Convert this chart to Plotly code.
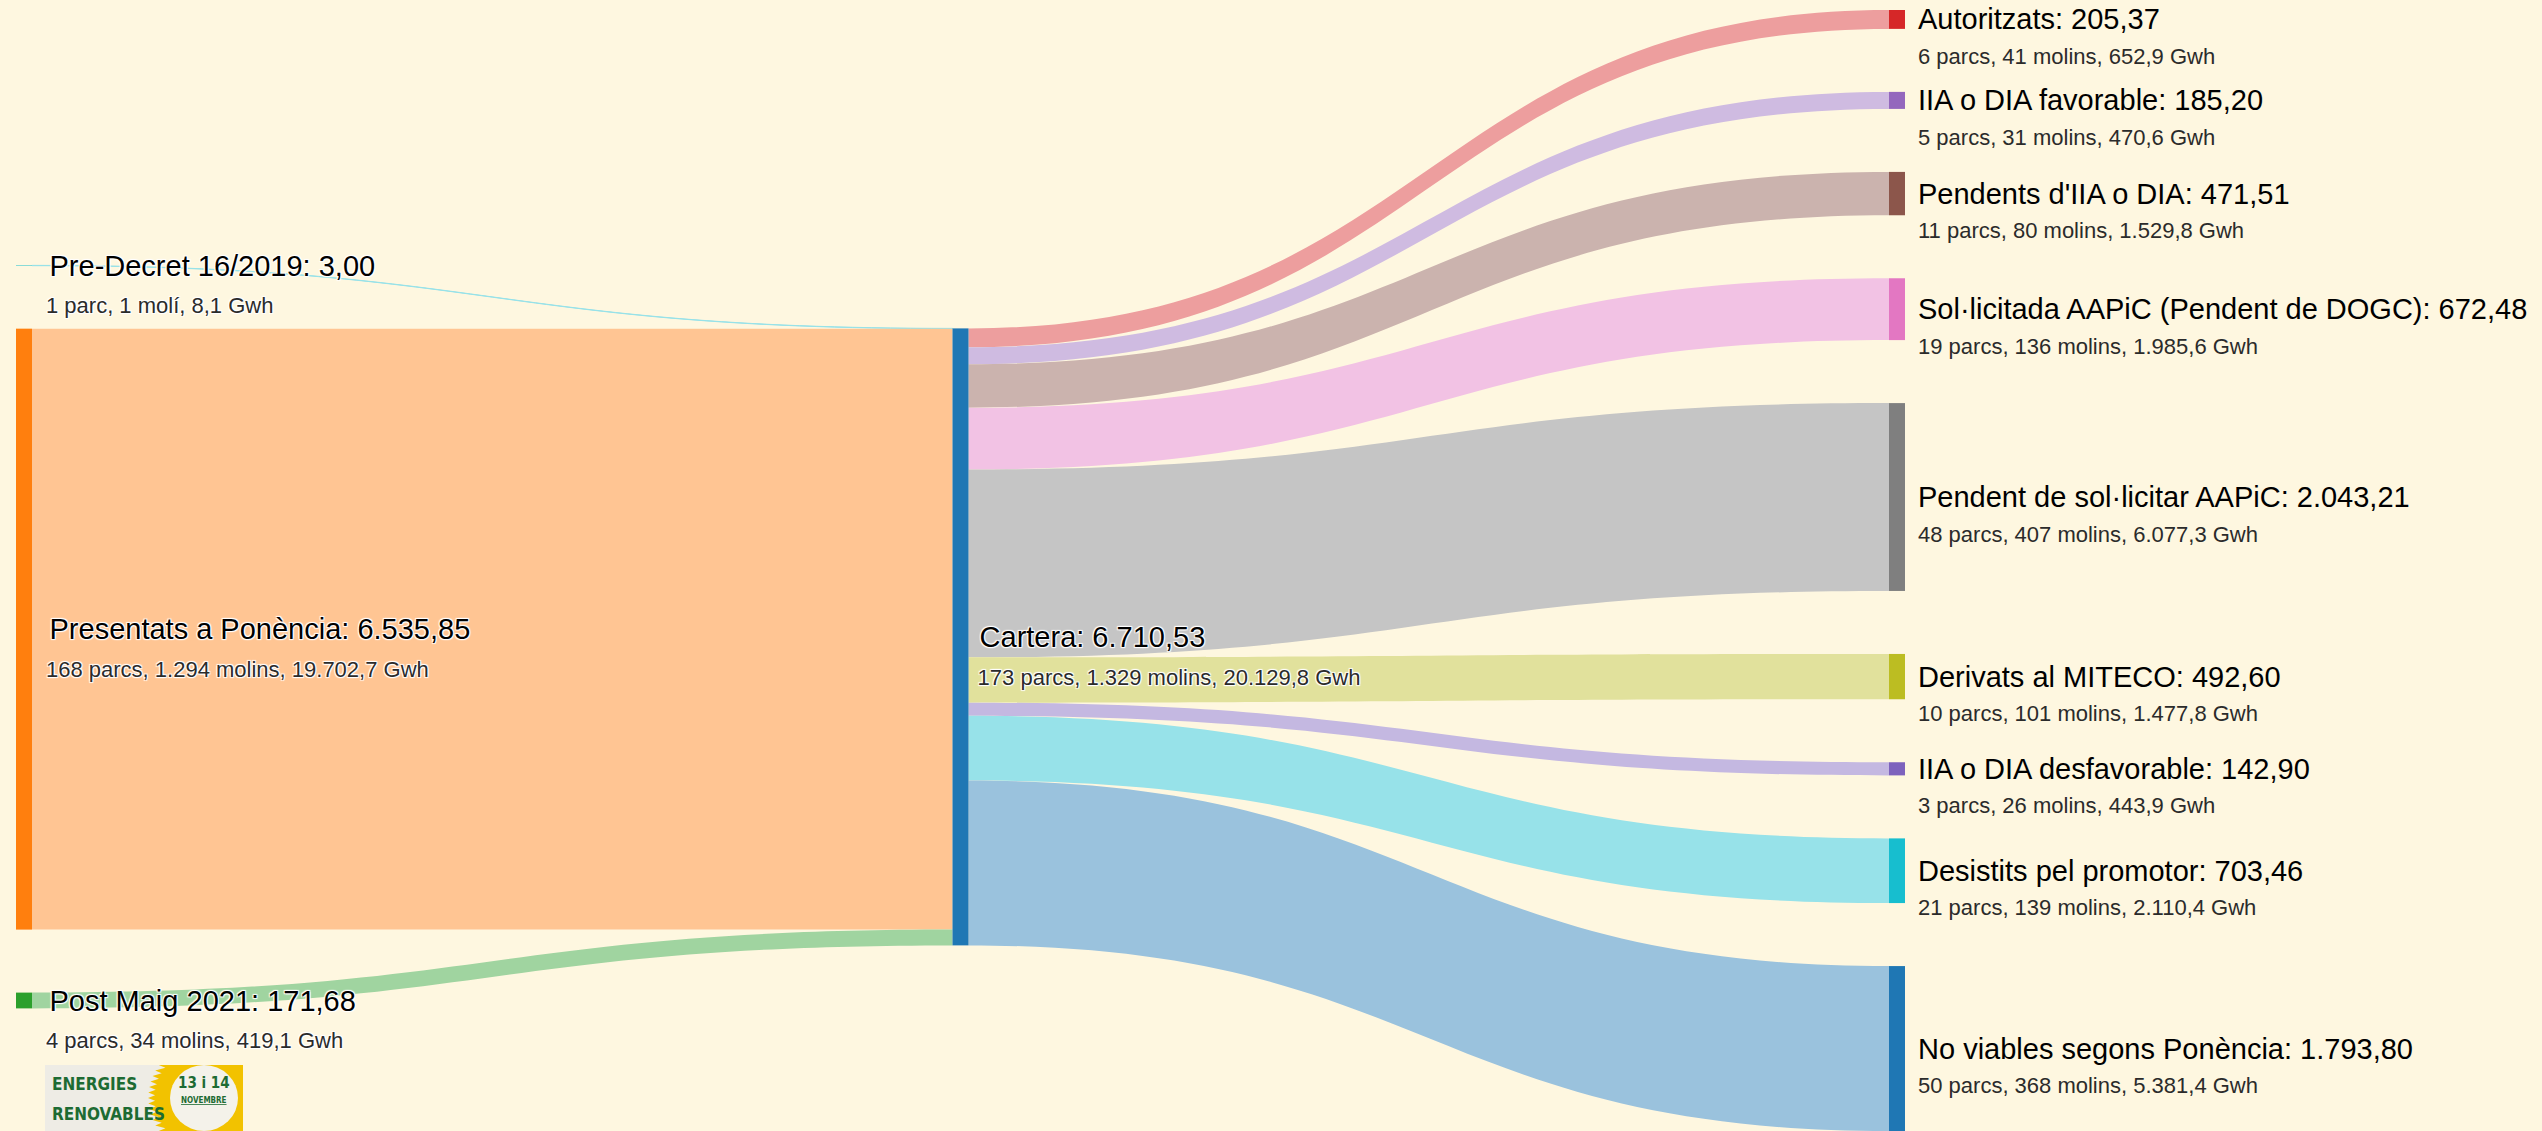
import math
import plotly.graph_objects as go

# ---------------- data ----------------
node_names = [
    "Pre-Decret 16/2019",
    "Presentats a Ponència",
    "Post Maig 2021",
    "Cartera",
    "Autoritzats",
    "IIA o DIA favorable",
    "Pendents d'IIA o DIA",
    "Sol·licitada AAPiC (Pendent de DOGC)",
    "Pendent de sol·licitar AAPiC",
    "Derivats al MITECO",
    "IIA o DIA desfavorable",
    "Desistits pel promotor",
    "No viables segons Ponència",
]
node_mw = [3.00, 6535.85, 171.68, 6710.53, 205.37, 185.20, 471.51, 672.48,
           2043.21, 492.60, 142.90, 703.46, 1793.80]
node_parcs = [1, 168, 4, 173, 6, 5, 11, 19, 48, 10, 3, 21, 50]
node_molins = [1, 1294, 34, 1329, 41, 31, 80, 136, 407, 101, 26, 139, 368]
node_gwh = [8.1, 19702.7, 419.1, 20129.8, 652.9, 470.6, 1529.8, 1985.6,
            6077.3, 1477.8, 443.9, 2110.4, 5381.4]

link_source = [0, 1, 2, 3, 3, 3, 3, 3, 3, 3, 3, 3]
link_target = [3, 3, 3, 4, 5, 6, 7, 8, 9, 10, 11, 12]
link_value = [3.00, 6535.85, 171.68, 205.37, 185.20, 471.51, 672.48,
              2043.21, 492.60, 142.90, 703.46, 1793.80]

# ---------------- styles ----------------
node_colors = ["#17becf", "#ff7f0e", "#2ca02c", "#1f77b4", "#d62728", "#9467bd",
               "#8c564b", "#e377c2", "#7f7f7f", "#bcbd22", "#7d62bd", "#17becf",
               "#1f77b4"]
BG = "#fef7e0"
FONT = "Liberation Sans, Arial, Helvetica, sans-serif"
MAIN_SIZE = 29
SUB_SIZE = 22
SUB_COLOR = "#2b2b2b"
LOGO_GREEN = "#1d6b33"
LOGO_FONT = "Liberation Sans Narrow, DejaVu Sans Condensed, Arial Narrow, sans-serif"

W, H = 2542, 1131
ML, MR, MT, MB = 16, 637, 10, 0
Wd, Hd = W - ML - MR, H - MT - MB
PAD, THICK = 63, 16
LINE_GAP = 37


def lighten(hexcol, a=0.45):
    h = hexcol.lstrip("#")
    r, g, b = (int(h[i:i + 2], 16) for i in (0, 2, 4))
    r, g, b = (round(a * c + (1 - a) * 255) for c in (r, g, b))
    return f"rgb({r},{g},{b})"


def ca_num(v, dec):
    s = f"{v:,.{dec}f}"
    return s.replace(",", "X").replace(".", ",").replace("X", ".")


def main_text(i):
    return f"{node_names[i]}: {ca_num(node_mw[i], 2)}"


def sub_text(i):
    p, m, g = node_parcs[i], node_molins[i], node_gwh[i]
    return (f"{p} {'parc' if p == 1 else 'parcs'}, "
            f"{ca_num(m, 0)} {'molí' if m == 1 else 'molins'}, "
            f"{ca_num(g, 1)} Gwh")


# ---------------- layout of columns (computed from the values) ----------------
left_col = [0, 1, 2]
mid = 3
right_col = list(range(4, 13))
total = node_mw[mid]
ky = (Hd - (len(right_col) - 1) * PAD) / total

centers = {}
cum = 0.0
for k, i in enumerate(right_col):
    h = node_mw[i] * ky
    centers[i] = cum * ky + k * PAD + h / 2
    cum += node_mw[i]

# middle node: value-weighted mean of its targets
centers[mid] = sum(node_mw[i] * centers[i] for i in right_col) / total
mid_top = centers[mid] - total * ky / 2

# left column: main inflow aligned with its entry on the middle node, others pushed by padding
pres_top = mid_top + node_mw[0] * ky
centers[1] = pres_top + node_mw[1] * ky / 2
centers[0] = pres_top - PAD - node_mw[0] * ky / 2
centers[2] = pres_top + node_mw[1] * ky + PAD + node_mw[2] * ky / 2

node_x, node_y = [], []
for i in range(len(node_names)):
    if i in left_col:
        node_x.append((THICK / 2) / Wd)
    elif i == mid:
        node_x.append(0.5)
    else:
        node_x.append((Wd - THICK / 2) / Wd)
    node_y.append(centers[i] / Hd)

labels = []
for i in range(len(node_names)):
    if i in right_col:
        labels.append("")
    else:
        lead = "\u2002" if i in left_col else "\u00a0"
        labels.append(
            "<br>" + lead + main_text(i)
            + f"<br><span style='font-size:{SUB_SIZE}px;color:{SUB_COLOR}'>" + lead + sub_text(i) + "</span>"
        )

link_colors = []
for s, t in zip(link_source, link_target):
    other = s if t == mid else t
    link_colors.append(lighten(node_colors[other]))

fig = go.Figure(go.Sankey(
    arrangement="fixed",
    node=dict(
        label=labels,
        color=node_colors,
        pad=PAD,
        thickness=THICK,
        line=dict(width=0),
        x=node_x,
        y=node_y,
    ),
    link=dict(
        source=link_source,
        target=link_target,
        value=link_value,
        color=link_colors,
    ),
    textfont=dict(family=FONT, size=MAIN_SIZE, color="#000000"),
    hoverinfo="none",
))


def px(x):
    return (x - ML) / Wd


def py(y):
    return (H - MB - y) / Hd


annotations = []
lab_x = px(ML + Wd + 11)
for i in right_col:
    yc = MT + centers[i]
    annotations.append(dict(xref="paper", yref="paper", x=lab_x, y=py(yc), xanchor="left",
                            yanchor="middle", text=main_text(i), showarrow=False,
                            font=dict(family=FONT, size=MAIN_SIZE, color="#000000")))
    annotations.append(dict(xref="paper", yref="paper", x=lab_x, y=py(yc + LINE_GAP),
                            xanchor="left", yanchor="middle", text=sub_text(i), showarrow=False,
                            font=dict(family=FONT, size=SUB_SIZE, color=SUB_COLOR)))

# ---------------- small logo approximation (bottom left) ----------------
LX0, LX1, LY0, LY1 = 45, 243, 1065, 1131
SCX, SCY = 204, 1098
pts = [(LX1, LY0), (LX1, LY1)]
n_steps = 24
for k in range(n_steps + 1):
    yy = LY1 - (LY1 - LY0) * k / n_steps
    r = 56 if k % 2 == 0 else 49
    dy = yy - SCY
    xx = SCX - math.sqrt(max(r * r - dy * dy, 0))
    pts.append((xx, yy))
sun_path = "M " + " L ".join(f"{px(x):.5f},{py(y):.5f}" for x, y in pts) + " Z"

shapes = [
    dict(type="rect", xref="paper", yref="paper", x0=px(LX0), x1=px(LX1), y0=py(LY1), y1=py(LY0),
         fillcolor="#eeece5", line=dict(width=0), layer="above"),
    dict(type="path", xref="paper", yref="paper", path=sun_path,
         fillcolor="#f2c200", line=dict(width=0), layer="above"),
    dict(type="circle", xref="paper", yref="paper", x0=px(SCX - 34), x1=px(SCX + 34),
         y0=py(LY1), y1=py(LY0), fillcolor="#f4f2ea", line=dict(width=0), layer="above"),
]
annotations += [
    dict(xref="paper", yref="paper", x=px(50), y=py(1084), xanchor="left", yanchor="middle",
         text="<b>ENERGIES</b>", showarrow=False,
         font=dict(family=LOGO_FONT, size=17, color=LOGO_GREEN)),
    dict(xref="paper", yref="paper", x=px(50), y=py(1114), xanchor="left", yanchor="middle",
         text="<b>RENOVABLES</b>", showarrow=False,
         font=dict(family=LOGO_FONT, size=17, color=LOGO_GREEN)),
    dict(xref="paper", yref="paper", x=px(SCX), y=py(1083), xanchor="center", yanchor="middle",
         text="<b>13 i 14</b>", showarrow=False,
         font=dict(family=LOGO_FONT, size=15, color=LOGO_GREEN)),
    dict(xref="paper", yref="paper", x=px(SCX), y=py(1100), xanchor="center", yanchor="middle",
         text="<b><u>NOVEMBRE</u></b>", showarrow=False,
         font=dict(family=LOGO_FONT, size=8, color=LOGO_GREEN)),
]

fig.update_layout(
    width=W, height=H,
    margin=dict(l=ML, r=MR, t=MT, b=MB),
    paper_bgcolor=BG,
    plot_bgcolor=BG,
    shapes=shapes,
    annotations=annotations,
    font=dict(family=FONT),
)

fig.write_html(
    "out.html",
    config={"displayModeBar": False},
    post_script="document.body.style.margin='0';document.body.style.background='%s';" % BG,
)
